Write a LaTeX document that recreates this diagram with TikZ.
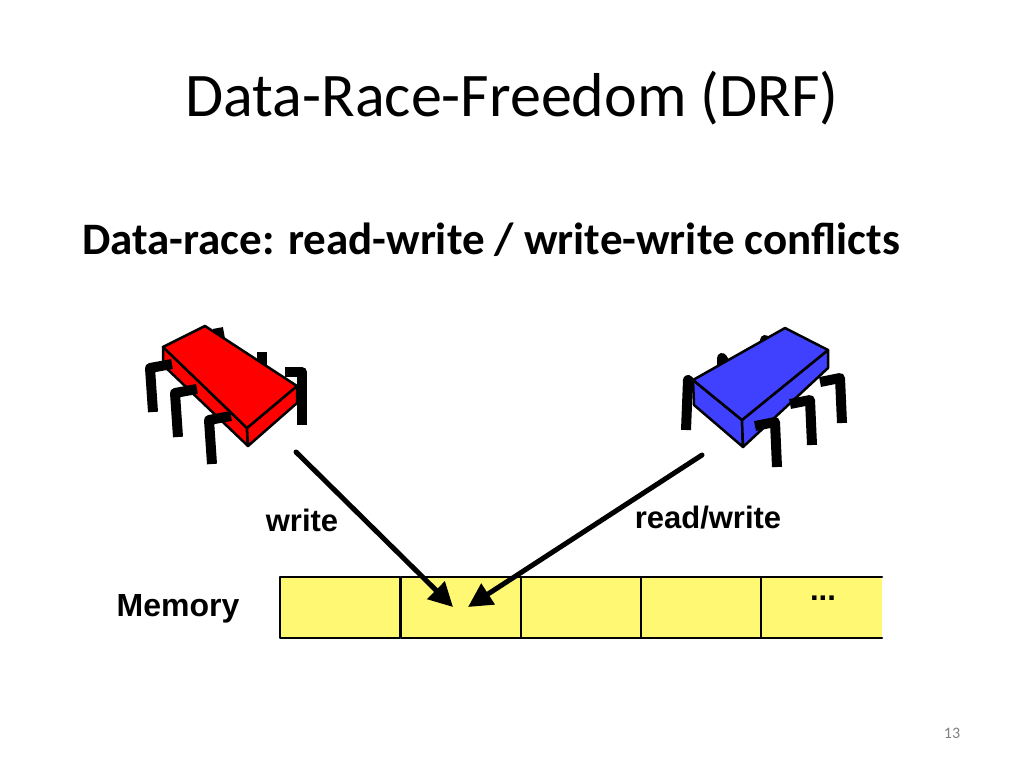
\documentclass[tikz,border=0pt]{standalone}
\usepackage{fontspec}
\setmainfont{Carlito}
\newfontfamily\arialfont{Liberation Sans}
\usetikzlibrary{arrows.meta}
\begin{document}
\begin{tikzpicture}[x=1pt,y=-1pt, line cap=round,line join=round,
  cell/.style={draw=black, line width=2.5pt, fill=yellow!55},
  leg/.style={line width=10pt, line cap=butt},
  chip/.style={draw=black, line width=2.5pt},
  lbl/.style={font=\arialfont\bfseries\fontsize{31}{36}\selectfont},
  acc/.style={line width=5pt, -{Triangle[length=24pt,width=24pt]}}]
\useasboundingbox (0,0) rectangle (1024,768);
\node (title) at (512,98) {\fontsize{62}{70}\selectfont Data-Race-Freedom (DRF)};
\node[anchor=west, inner sep=0pt] (sub) at (82,240) {\fontsize{45}{50}\selectfont\bfseries Data-race: read-write / write-write conflicts};
\node (pg) at (952,733) {\fontsize{16}{18}\selectfont\color{gray}13};
% memory
\foreach \i/\x in {0/280,1/401,2/521,3/641}
  \draw[cell] (\x,577) rectangle ++(120,61);
\draw[cell] (882,577) -- (761,577) -- (761,638) -- (882,638);
\fill[yellow!55] (763,579) rectangle (882,636);
\node[lbl, font=\arialfont\bfseries\fontsize{32}{36}\selectfont] (mem) at (178,609) {Memory};
\node[lbl] (dots) at (823,598) {...};
\coordinate (cell) at (460,607);
% red chip
\draw[leg] (218,328) -- (222,350);
\draw[leg] (262,352) -- (262,370);
\draw[leg] (285,372) -- (302,372) -- (302,425);
\draw[chip, fill=red] (163,347) -- (247,428) -- (248,446) -- (163,365) -- cycle;
\draw[chip, fill=red] (247,428) -- (297,386) -- (297,403) -- (248,446) -- cycle;
\draw[chip, fill=red] (163,347) -- (205,326) -- (297,386) -- (247,428) -- cycle;
\foreach \a/\b in {150/368,175/393,209/420}
  \draw[leg] (\a+22,\b-4) -- (\a,\b) -- (\a+3,\b+44);
\coordinate (red) at (296,452);
% blue chip
\draw[leg] (700,392) -- (688,380) -- (686,430);
\draw[leg] (735,380) -- (722,358) -- (722,372);
\draw[leg] (770,358) -- (765,340) -- (765,352);
\draw[chip, fill=blue!75] (693,380) -- (742,420) -- (743,447) -- (694,405) -- cycle;
\draw[chip, fill=blue!75] (742,420) -- (828,350) -- (828,368) -- (743,447) -- cycle;
\draw[chip, fill=blue!75] (693,380) -- (785,328) -- (828,350) -- (742,420) -- cycle;
\foreach \a/\b in {775/422,810/400,840/378}
  \draw[leg] (\a-20,\b+4) -- (\a,\b) -- (\a+2,\b+45);
\coordinate (blue) at (702,455);
% accesses
\draw[acc] (red) -- ([xshift=-7pt]cell);
\draw[acc] (blue) -- ([xshift=8pt]cell);
\node[lbl] (w) at (302,520) {write};
\node[lbl] (rw) at (708,518) {read/write};
\end{tikzpicture}
\end{document}
